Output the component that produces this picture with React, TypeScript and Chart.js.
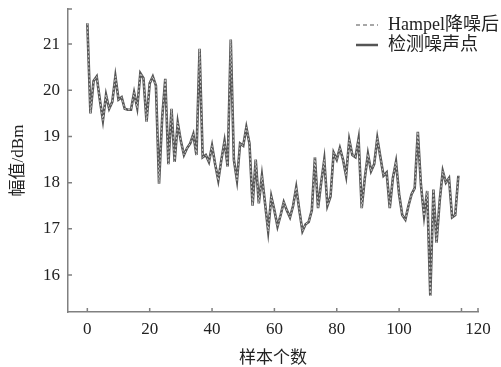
import React, { useEffect, useRef } from 'react';
import { Chart, registerables } from 'chart.js';
Chart.register(...registerables);

// 检测噪声点 (measured signal)
const noisePoints = [
  21.45, 19.5, 20.2, 20.3, 19.8, 19.35, 19.9, 19.6, 19.75, 20.3,
  19.8, 19.85, 19.6, 19.58, 19.58, 19.95, 19.62, 20.37, 20.26, 19.32,
  20.15, 20.3, 20.1, 17.98, 19.4, 20.25, 18.4, 19.6, 18.45, 19.3,
  18.9, 18.6, 18.75, 18.85, 19.05, 18.6, 20.9, 18.55, 18.6, 18.45,
  18.8, 18.4, 18.05, 18.5, 18.9, 18.35, 21.1, 18.5, 18.05, 18.85,
  18.8, 19.2, 18.85, 17.5, 18.5, 17.55, 18.15, 17.55, 16.95, 17.7,
  17.4, 17.05, 17.3, 17.58, 17.4, 17.25, 17.5, 17.9, 17.4, 16.95,
  17.1, 17.15, 17.4, 18.55, 17.45, 18.0, 18.5, 17.5, 17.7, 18.65,
  18.5, 18.75, 18.5, 18.15, 18.93, 18.6, 18.55, 18.95, 17.45, 18.1,
  18.62, 18.25, 18.4, 18.96, 18.55, 18.15, 18.22, 17.45, 18.1, 18.45,
  17.75, 17.3, 17.2, 17.5, 17.75, 17.88, 19.1, 17.95, 17.28, 17.82,
  15.55, 17.85, 16.7, 17.6, 18.25, 18.0, 18.1, 17.25, 17.3, 18.15,
];

// Hampel降噪后 (filtered signal, overlapping the measured one)
const hampelFiltered = [
  21.45, 19.5, 20.2, 20.3, 19.8, 19.35, 19.9, 19.6, 19.75, 20.3,
  19.8, 19.85, 19.6, 19.58, 19.58, 19.95, 19.62, 20.37, 20.26, 19.32,
  20.15, 20.3, 20.1, 17.98, 19.4, 20.25, 18.4, 19.6, 18.45, 19.3,
  18.9, 18.6, 18.75, 18.85, 19.05, 18.6, 20.9, 18.55, 18.6, 18.45,
  18.8, 18.4, 18.05, 18.5, 18.9, 18.35, 21.1, 18.5, 18.05, 18.85,
  18.8, 19.2, 18.85, 17.5, 18.5, 17.55, 18.15, 17.55, 16.95, 17.7,
  17.4, 17.05, 17.3, 17.58, 17.4, 17.25, 17.5, 17.9, 17.4, 16.95,
  17.1, 17.15, 17.4, 18.55, 17.45, 18.0, 18.5, 17.5, 17.7, 18.65,
  18.5, 18.75, 18.5, 18.15, 18.93, 18.6, 18.55, 18.95, 17.45, 18.1,
  18.62, 18.25, 18.4, 18.96, 18.55, 18.15, 18.22, 17.45, 18.1, 18.45,
  17.75, 17.3, 17.2, 17.5, 17.75, 17.88, 19.1, 17.95, 17.28, 17.82,
  15.55, 17.85, 16.7, 17.6, 18.25, 18.0, 18.1, 17.25, 17.3, 18.15,
];

const seriesLabels = ['Hampel降噪后', '检测噪声点'];
const xTickValues = [0, 20, 40, 60, 80, 100, 120];
const xTickLabels = ['0', '20', '40', '60', '80', '100', '120'];
const yTickValues = [16, 17, 18, 19, 20, 21];
const xTitle = '样本个数';
const yTitle = '幅值/dBm';

const X_MIN = -6.2;
const X_MAX = 125.3;
const Y_MIN = 15.2;
const Y_MAX = 21.76;

const FONT = "'Liberation Serif', 'Times New Roman', 'Noto Sans CJK SC', serif";
const AXIS_COLOR = '#808080';
const TEXT_COLOR = '#222';

const tickMarksPlugin = {
  id: 'tickMarks',
  afterDraw(chart: any) {
    const { ctx, chartArea, scales } = chart;
    ctx.save();
    ctx.strokeStyle = AXIS_COLOR;
    ctx.lineWidth = 1.5;
    const len = 4;
    ctx.beginPath();
    [...xTickValues, X_MAX].forEach((v) => {
      const x = scales.x.getPixelForValue(v);
      ctx.moveTo(x, chartArea.bottom);
      ctx.lineTo(x, chartArea.bottom - len);
    });
    [...yTickValues, Y_MAX].forEach((v) => {
      const y = scales.y.getPixelForValue(v);
      ctx.moveTo(chartArea.left, y);
      ctx.lineTo(chartArea.left + len, y);
    });
    ctx.stroke();
    ctx.restore();
  },
};

const legendPlugin = {
  id: 'customLegend',
  afterDraw(chart: any) {
    const { ctx } = chart;
    const ds = chart.data.datasets;
    ctx.save();
    ctx.font = `18px ${FONT}`;
    ctx.textBaseline = 'middle';
    ctx.textAlign = 'left';
    const rows = [25, 45];
    ds.forEach((d: any, i: number) => {
      const y = rows[i];
      ctx.beginPath();
      ctx.strokeStyle = i === 0 ? '#8a8a8a' : d.borderColor;
      ctx.lineWidth = i === 0 ? 1.5 : 2.5;
      ctx.setLineDash(i === 0 ? [4, 3] : []);
      ctx.moveTo(356, y);
      ctx.lineTo(378, y);
      ctx.stroke();
      ctx.setLineDash([]);
      ctx.fillStyle = TEXT_COLOR;
      ctx.fillText(d.label, 388, y);
    });
    ctx.restore();
  },
};

export default function App() {
  const ref = useRef<HTMLCanvasElement>(null);
  useEffect(() => {
    const hampelData = hampelFiltered.map((v, i) => ({ x: i, y: v }));
    const noiseData = noisePoints.map((v, i) => ({ x: i, y: v }));
    const chart = new Chart(ref.current as HTMLCanvasElement, {
      type: 'line',
      data: {
        datasets: [
          {
            label: seriesLabels[0],
            data: hampelData,
            borderColor: '#c8c8c8',
            borderWidth: 1,
            borderDash: [2, 2],
            pointRadius: 0,
            tension: 0,
            order: 0,
          },
          {
            label: seriesLabels[1],
            data: noiseData,
            borderColor: '#555555',
            borderWidth: 2.6,
            pointRadius: 0,
            tension: 0,
            order: 1,
          },
        ],
      },
      options: {
        animation: false,
        responsive: false,
        layout: { padding: { top: 9, right: 23, left: 0, bottom: 0 } },
        plugins: { legend: { display: false }, tooltip: { enabled: false } },
        scales: {
          x: {
            type: 'linear',
            min: X_MIN,
            max: X_MAX,
            afterBuildTicks: (s: any) => {
              s.ticks = [...xTickValues.slice(0, -1), X_MAX].map((v) => ({ value: v }));
            },
            afterFit: (s: any) => {
              s.height = 55;
              s.paddingLeft = 0;
              s.paddingRight = 0;
            },
            grid: { display: false, drawTicks: false },
            border: { display: true, color: AXIS_COLOR, width: 1.5 },
            ticks: {
              color: TEXT_COLOR,
              font: { family: FONT, size: 17 },
              padding: 7,
              maxRotation: 0,
              autoSkip: false,
              callback: (v: any) => {
                if (v === X_MAX) return xTickLabels[xTickLabels.length - 1];
                const idx = xTickValues.indexOf(v);
                return idx >= 0 ? xTickLabels[idx] : '';
              },
            },
            title: {
              display: true,
              text: xTitle,
              color: TEXT_COLOR,
              font: { family: FONT, size: 17 },
              padding: { top: 0, bottom: -2 },
            },
          },
          y: {
            type: 'linear',
            min: Y_MIN,
            max: Y_MAX,
            afterBuildTicks: (s: any) => {
              s.ticks = yTickValues.map((v) => ({ value: v }));
            },
            afterFit: (s: any) => {
              s.width = 68;
              s.paddingTop = 0;
              s.paddingBottom = 0;
            },
            grid: { display: false, drawTicks: false },
            border: { display: true, color: AXIS_COLOR, width: 1.5 },
            ticks: {
              color: TEXT_COLOR,
              font: { family: FONT, size: 17 },
              padding: 8,
              autoSkip: false,
            },
            title: {
              display: true,
              text: yTitle,
              color: TEXT_COLOR,
              font: { family: FONT, size: 17 },
              padding: { top: 8, bottom: 0 },
            },
          },
        },
      },
      plugins: [tickMarksPlugin, legendPlugin],
    });
    return () => chart.destroy();
  }, []);
  return (
    <div style={{ position: 'absolute', left: 0, top: 0, width: 501, height: 367, background: '#fff' }}>
      <canvas ref={ref} width={501} height={367} style={{ display: 'block', width: 501, height: 367 }} />
    </div>
  );
}
